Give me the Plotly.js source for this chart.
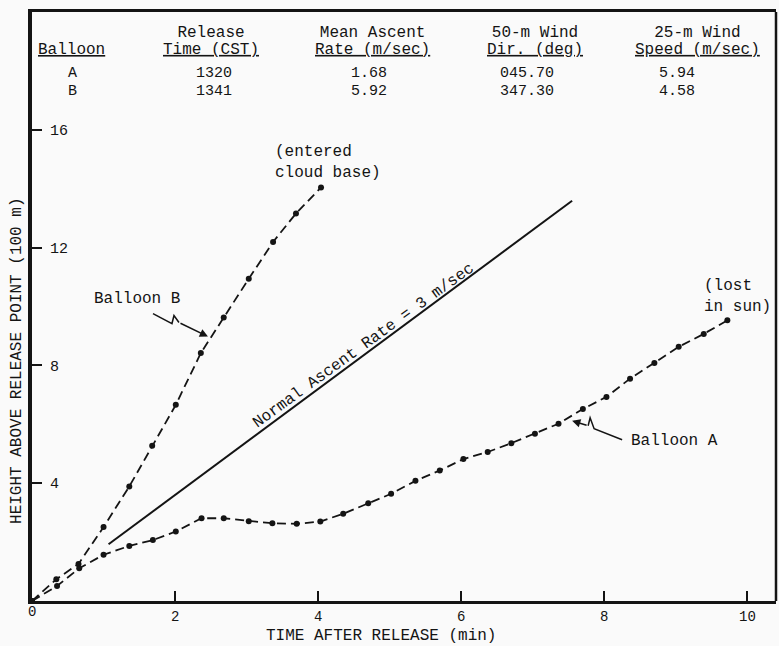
<!DOCTYPE html>
<html>
<head>
<meta charset="utf-8">
<script src="https://cdn.plot.ly/plotly-3.0.1.min.js"></script>
<style>
  html, body { margin: 0; padding: 0; background: #fafafa; }
  #chart { width: 779px; height: 646px; }
</style>
</head>
<body>
<div id="chart"></div>
<script>
// Time after release (min) and height above release point (100 m)
const timeB = [0, 0.34, 0.65, 1.0, 1.36, 1.68, 2.01, 2.36, 2.68, 3.03, 3.37, 3.69, 4.04];
const heightB = [0, 0.74, 1.26, 2.51, 3.89, 5.27, 6.66, 8.42, 9.63, 10.94, 12.19, 13.16, 14.04];

const timeA = [0, 0.35, 0.66, 1.0, 1.36, 1.69, 2.01, 2.37, 2.68, 3.03, 3.36, 3.70, 4.03, 4.35,
  4.70, 5.02, 5.36, 5.70, 6.03, 6.37, 6.70, 7.03, 7.36, 7.70, 8.03, 8.36, 8.70, 9.04, 9.39, 9.72];
const heightA = [0, 0.51, 1.11, 1.57, 1.87, 2.07, 2.36, 2.81, 2.81, 2.71, 2.64, 2.62, 2.70, 2.96,
  3.32, 3.64, 4.08, 4.43, 4.82, 5.06, 5.36, 5.68, 6.02, 6.52, 6.93, 7.55, 8.08, 8.63, 9.07, 9.53];

// Reference line: normal ascent rate (m/sec), drawn over this time span (min)
const normalRate = 3;
const normalSpan = [1.07, 7.55];

// Release summary table
const headTop = ['', 'Release', 'Mean Ascent', '50-m Wind', '25-m Wind'];
const headBottom = ['Balloon', 'Time (CST)', 'Rate (m/sec)', 'Dir. (deg)', 'Speed (m/sec)'];
const balloonIds = ['A', 'B'];
const releaseTimes = ['1320', '1341'];
const meanAscentRates = ['1.68', '5.92'];
const windDir50m = ['045.70', '347.30'];
const windSpeed25m = ['5.94', '4.58'];

const xTicks = [0, 2, 4, 6, 8, 10];
const yTicks = [4, 8, 12, 16];

const FONT = 'Liberation Mono, Courier New, monospace';
const INK = '#141414';

// 100 m per height unit, 60 s per minute
const normalHeights = normalSpan.map(t => t * normalRate * 60 / 100);

const traces = [
  {
    x: timeB, y: heightB, mode: 'lines+markers', name: 'Balloon B',
    line: {color: INK, width: 1.8, dash: '9px,5px'},
    marker: {color: INK, size: 6}
  },
  {
    x: timeA, y: heightA, mode: 'lines+markers', name: 'Balloon A',
    line: {color: INK, width: 1.8, dash: '9px,5px'},
    marker: {color: INK, size: 6}
  },
  {
    x: normalSpan, y: normalHeights, mode: 'lines', name: 'Normal',
    line: {color: INK, width: 2}
  }
];

// Table text placement (paper coordinates)
const headX = [0.0531, 0.2406, 0.4583, 0.6761, 0.8945];
const valX = [0.0544, 0.2446, 0.4530, 0.6653, 0.8676];
const headY = 0.9499;
const balloonHeadY = 0.9355;
const valY = 0.8795;

const annotations = [];
function txt(x, y, text, extra) {
  annotations.push(Object.assign({
    xref: 'paper', yref: 'paper', x: x, y: y, text: text, showarrow: false,
    xanchor: 'center', yanchor: 'middle',
    font: {family: FONT, size: 16, color: INK}
  }, extra || {}));
}
// Typed table: the base size sets the line pitch, the span sets the glyph size
const sized = px => s => '<span style="font-size:' + px + 'px">' + s + '</span>';
const big = sized(16);
const mid = sized(15);
headTop.forEach((h, i) => {
  if (h) {
    txt(headX[i], headY, big(h) + '<br>' + big('<u>' + headBottom[i] + '</u>'),
        {font: {family: FONT, size: 13, color: INK}});
  } else {
    txt(headX[i], balloonHeadY, '<u>' + headBottom[i] + '</u>');
  }
});
const tableCols = [balloonIds, releaseTimes, meanAscentRates, windDir50m, windSpeed25m];
tableCols.forEach((col, i) => {
  txt(valX[i], valY, col.map(mid).join('<br>'), {font: {family: FONT, size: 13.85, color: INK}});
});

// Axis titles and the origin label
txt(-0.0202, 0.4075, 'HEIGHT ABOVE RELEASE POINT (100 m)', {textangle: -90});
txt(0.469, -0.06, 'TIME AFTER RELEASE (min)');
txt(0, -0.019, '0', {font: {family: FONT, size: 14, color: INK}});

// Labels in the plot
function dataTxt(x, y, text, extra) {
  annotations.push(Object.assign({
    xref: 'x', yref: 'y', x: x, y: y, text: text, showarrow: false,
    xanchor: 'left', yanchor: 'middle', align: 'left',
    font: {family: FONT, size: 16, color: INK}
  }, extra || {}));
}
dataTxt(3.37, 14.9, '(entered<br>cloud base)');
dataTxt(0.84, 10.24, 'Balloon B');
dataTxt(9.37, 10.34, '(lost<br>in sun)');
dataTxt(8.34, 5.42, 'Balloon A');
dataTxt(4.63, 8.67, 'Normal Ascent Rate = 3 m/sec', {xanchor: 'center', textangle: -36});

// Pointer arrows
function pointer(x, y, ax, ay) {
  annotations.push({
    xref: 'x', yref: 'y', x: x, y: y, text: '', showarrow: true,
    ax: ax, ay: ay, arrowhead: 2, arrowsize: 1.1, arrowwidth: 1.5, arrowcolor: INK
  });
}
pointer(2.46, 8.98, -29, -14);
pointer(7.55, 6.12, 16, 5);

const shapes = [
  // zigzag tails of the pointers
  {type: 'path', xref: 'x', yref: 'y', xsizemode: 'pixel', ysizemode: 'pixel',
   xanchor: 2.46, yanchor: 8.98, path: 'M-55,23 L-36,13 L-34,21 L-29,14',
   line: {color: INK, width: 1.5}},
  {type: 'path', xref: 'x', yref: 'y', xsizemode: 'pixel', ysizemode: 'pixel',
   xanchor: 7.55, yanchor: 6.12, path: 'M50,-19 L22,-8 L18,3 L16,-5',
   line: {color: INK, width: 1.5}},
  // right edge of the frame
  {type: 'line', xref: 'paper', yref: 'paper', x0: 1, x1: 1, y0: 0, y1: 1,
   line: {color: INK, width: 2.5}}
];

const layout = {
  width: 779, height: 646,
  margin: {l: 32, r: 3, t: 12, b: 45},
  paper_bgcolor: '#fafafa', plot_bgcolor: '#fafafa',
  showlegend: false,
  font: {family: FONT, color: INK},
  xaxis: {
    range: [0, 10.4], tickvals: xTicks, ticktext: ['', '2', '4', '6', '8', '10'],
    ticks: 'inside', ticklen: 10, tickwidth: 2,
    tickcolor: INK, showline: true, linewidth: 3, linecolor: INK, mirror: true,
    showgrid: false, zeroline: false, tickfont: {family: FONT, size: 14, color: INK}
  },
  yaxis: {
    range: [0, 20], tickvals: yTicks, ticks: 'inside', ticklen: 10, tickwidth: 2,
    ticklabelposition: 'inside', ticklabelstandoff: 8,
    tickcolor: INK, showline: true, linewidth: 4,
    linecolor: INK, showgrid: false, zeroline: false,
    tickfont: {family: FONT, size: 15, color: INK}
  },
  annotations: annotations,
  shapes: shapes
};

Plotly.newPlot('chart', traces, layout, {displayModeBar: false, staticPlot: true});
</script>
</body>
</html>
